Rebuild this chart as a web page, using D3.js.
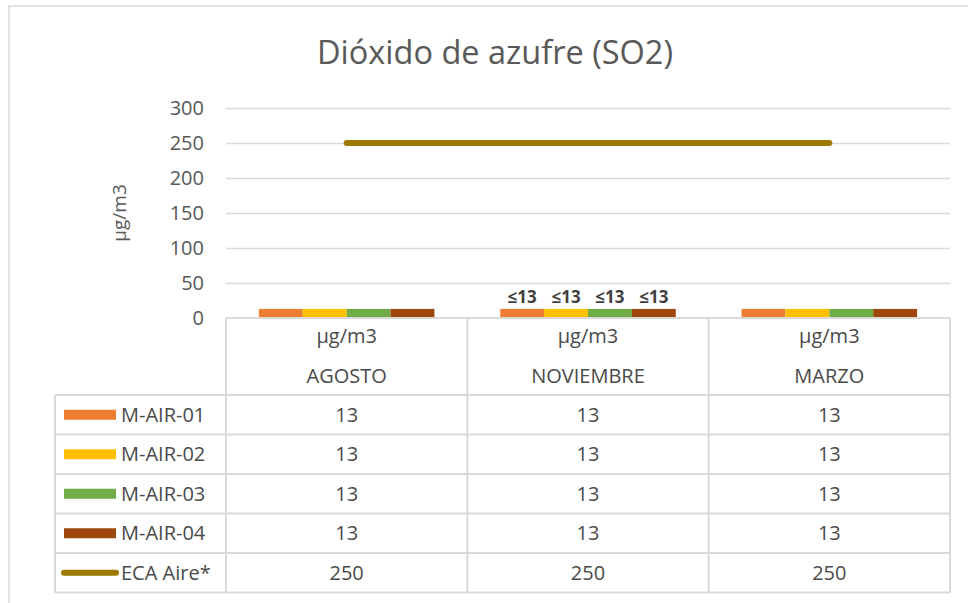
<!DOCTYPE html>
<html>
<head>
<meta charset="utf-8">
<script src="https://cdn.jsdelivr.net/npm/d3@7"></script>
<style>
  body { margin: 0; background: #fff; }
  text { font-family: "Open Sans", Lato, sans-serif; }
</style>
</head>
<body>
<svg id="so2Chart" width="968" height="603"></svg>
<script>
const months = ['AGOSTO', 'NOVIEMBRE', 'MARZO'];
const stations = ['M-AIR-01', 'M-AIR-02', 'M-AIR-03', 'M-AIR-04'];
const stationValues = [
    [13, 13, 13],
    [13, 13, 13],
    [13, 13, 13],
    [13, 13, 13]
];
const ecaValues = [250, 250, 250];
const yTicks = [0, 50, 100, 150, 200, 250, 300];
const barLabels = ['', '≤13', ''];   // only NOVIEMBRE has labels
const colors = ['#ED7D31', '#FFC000', '#70AD47', '#9E480E'];
const ecaColor = '#9C7900';

const svg = d3.select('svg#so2Chart');
const gray = '#595959';
const lineGray = '#d9d9d9';
const font = '"Open Sans", Lato, sans-serif';

// outer chart border
svg.append('rect')
    .attr('x', 9).attr('y', 6)
    .attr('width', 980).attr('height', 620)
    .attr('fill', 'none')
    .attr('stroke', '#e3e3e3')
    .attr('stroke-width', 2);

// title
svg.append('text')
    .attr('x', 495).attr('y', 64)
    .attr('text-anchor', 'middle')
    .attr('font-size', 32.5)
    .attr('fill', gray)
    .text('Dióxido de azufre (SO2)');

const plotLeft = 226, plotRight = 950;
const yScale = d3.scaleLinear().domain([0, 300]).range([318, 108]);
const xScale = d3.scaleBand().domain(months).range([plotLeft, plotRight]);
const xInner = d3.scaleBand().domain(stations)
    .range([0, xScale.bandwidth()])
    .paddingOuter(0.75);

// grid
svg.append('g')
    .attr('transform', `translate(${plotLeft}, 0)`)
    .call(d3.axisLeft(yScale)
        .tickValues(yTicks.filter(t => t > 0))
        .tickSize(-(plotRight - plotLeft))
        .tickFormat(''))
    .call(g => g.select('.domain').remove())
    .call(g => g.selectAll('line').attr('stroke', lineGray).attr('stroke-width', 1.5));

// y tick labels
svg.append('g')
    .attr('transform', `translate(${plotLeft - 22}, 0)`)
    .call(d3.axisLeft(yScale).tickValues(yTicks).tickSize(0).tickPadding(0))
    .call(g => g.select('.domain').remove())
    .call(g => g.selectAll('text')
        .attr('font-size', 20)
        .attr('fill', gray)
        .style('font-family', font));

// y axis label
svg.append('text')
    .attr('transform', `translate(126, ${yScale(150)}) rotate(-90)`)
    .attr('text-anchor', 'middle')
    .attr('font-size', 19)
    .attr('fill', gray)
    .text('µg/m3');

// bars
stations.forEach((s, si) => {
    svg.append('g').selectAll('rect')
        .data(months.map((m, mi) => ({ m, v: stationValues[si][mi] })))
        .enter()
        .append('rect')
        .attr('x', d => xScale(d.m) + xInner(s))
        .attr('y', d => yScale(d.v))
        .attr('width', xInner.bandwidth())
        .attr('height', d => yScale(0) - yScale(d.v))
        .attr('fill', colors[si]);

    svg.append('g').selectAll('text')
        .data(months.map((m, mi) => ({ m, v: stationValues[si][mi], lab: barLabels[mi] })))
        .enter()
        .append('text')
        .attr('x', d => xScale(d.m) + xInner(s) + xInner.bandwidth() / 2)
        .attr('y', d => yScale(d.v) - 6)
        .attr('text-anchor', 'middle')
        .attr('font-size', 17)
        .attr('font-weight', 'bold')
        .attr('fill', '#404040')
        .text(d => d.lab);
});

// ECA line
const line = d3.line()
    .x((d, i) => xScale(months[i]) + xScale.bandwidth() / 2)
    .y(d => yScale(d));
svg.append('path')
    .datum(ecaValues)
    .attr('d', line)
    .attr('fill', 'none')
    .attr('stroke', ecaColor)
    .attr('stroke-width', 6)
    .attr('stroke-linecap', 'round');

// data table
const tableTop = yScale(0);
const headerBottom = 395;
const rowH = 39.5;
const legendLeft = 55;
const rowNames = stations.concat(['ECA Aire*']);
const rowValues = stationValues.concat([ecaValues]);
const tableBottom = headerBottom + rowH * rowNames.length;
const tbl = svg.append('g')
    .attr('stroke', lineGray)
    .attr('stroke-width', 2)
    .attr('fill', 'none');

// horizontal rules
tbl.append('line').attr('x1', plotLeft).attr('x2', plotRight).attr('y1', tableTop).attr('y2', tableTop);
d3.range(rowNames.length + 1).forEach(i => {
    const y = headerBottom + i * rowH;
    tbl.append('line').attr('x1', legendLeft).attr('x2', plotRight).attr('y1', y).attr('y2', y);
});
// vertical rules
tbl.append('line').attr('x1', legendLeft).attr('x2', legendLeft).attr('y1', headerBottom).attr('y2', tableBottom);
months.forEach(m => {
    tbl.append('line').attr('x1', xScale(m)).attr('x2', xScale(m)).attr('y1', tableTop).attr('y2', tableBottom);
});
tbl.append('line').attr('x1', plotRight).attr('x2', plotRight).attr('y1', tableTop).attr('y2', tableBottom);

const cellText = '#4a4a4a';
const cellSize = 20;
// header
months.forEach(m => {
    const cx = xScale(m) + xScale.bandwidth() / 2;
    svg.append('text').attr('x', cx).attr('y', 343)
        .attr('text-anchor', 'middle').attr('font-size', cellSize).attr('fill', cellText)
        .text('µg/m3');
    svg.append('text').attr('x', cx).attr('y', 383)
        .attr('text-anchor', 'middle').attr('font-size', cellSize).attr('fill', cellText)
        .text(m);
});

// rows
rowNames.forEach((name, ri) => {
    const cy = headerBottom + ri * rowH + rowH / 2;
    if (ri < stations.length) {
        svg.append('rect')
            .attr('x', 64).attr('y', cy - 5)
            .attr('width', 52).attr('height', 10)
            .attr('fill', colors[ri]);
    } else {
        svg.append('line')
            .attr('x1', 64).attr('x2', 116).attr('y1', cy).attr('y2', cy)
            .attr('stroke', ecaColor).attr('stroke-width', 6)
            .attr('stroke-linecap', 'round');
    }
    svg.append('text').attr('x', 121).attr('y', cy + 7)
        .attr('font-size', cellSize).attr('fill', cellText)
        .text(name);
    months.forEach((m, mi) => {
        svg.append('text')
            .attr('x', xScale(m) + xScale.bandwidth() / 2)
            .attr('y', cy + 7)
            .attr('text-anchor', 'middle')
            .attr('font-size', cellSize).attr('fill', cellText)
            .text(rowValues[ri][mi]);
    });
});
</script>
</body>
</html>
